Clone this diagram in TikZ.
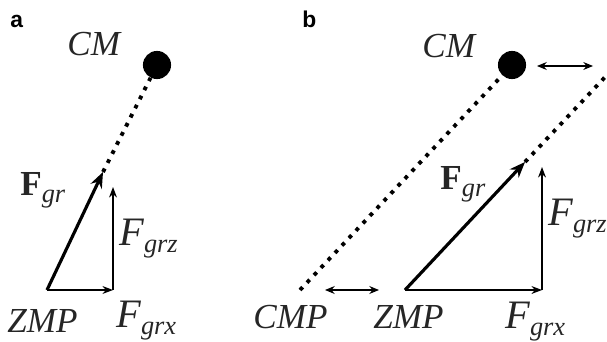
\documentclass[tikz,border=0pt]{standalone}
\usepackage{fontspec}
\setmainfont{Liberation Serif}
\setsansfont{Liberation Sans}
\usetikzlibrary{arrows.meta}

\newcommand{\fsub}[2]{#1\raisebox{-4.5pt}{\fontsize{15}{15}\selectfont\itshape #2}}
\tikzset{
    lbl/.style={font=\fontsize{20}{22}\selectfont\itshape, text=black!85, inner sep=0pt, anchor=base west},
    biglbl/.style={lbl, font=\fontsize{23}{25}\selectfont\itshape},
    panel/.style={font=\fontsize{13}{15}\selectfont\sffamily\bfseries, inner sep=0pt, anchor=base west},
    mass/.style={circle, fill, inner sep=0pt, minimum size=16pt},
    cmline/.style={line width=2.2pt, dash pattern=on 2.2pt off 3.6pt},
    force/.style={-{Stealth[length=9pt, width=7pt]}, line width=1.8pt},
    comp/.style={-{Stealth[length=6pt, width=4.5pt]}, line width=0.7pt},
    offsetarrow/.style={{Stealth[length=5.5pt, width=4.5pt]}-{Stealth[length=5.5pt, width=4.5pt]}, line width=0.7pt}
}

\begin{document}
\begin{tikzpicture}[x=0.02cm, y=-0.02cm]
    \useasboundingbox (0,0) rectangle (607,341);
    % (a)
    \node[panel] (lblA) at (10,28) {a};
    \node[lbl] (cmA) at (67,55) {CM};
    \node[mass] (dotA) at (157,65) {};
    \coordinate (zmpA) at (47,290);
    \coordinate (tipA) at (103,172);
    \coordinate (footA) at (113,290);
    \coordinate (topA) at (113,187);
    \draw[cmline] (tipA) -- (dotA);
    \draw[force] (zmpA) -- (tipA);
    \draw[comp] (zmpA) -- (footA);
    \draw[comp] (footA) -- (topA);
    \node[lbl] (fgrA) at (20,195) {\fsub{\textup{\textbf{F}}}{gr}};
    \node[biglbl] (fgrzA) at (119,245) {\fsub{F}{grz}};
    \node[lbl] (zmpTxtA) at (7,332) {ZMP};
    \node[biglbl] (fgrxA) at (116,327) {\fsub{F}{grx}};
    % (b)
    \node[panel] (lblB) at (302,28) {b};
    \node[lbl] (cmB) at (422,57) {CM};
    \node[mass] (dotB) at (512,65) {};
    \coordinate (cmpB) at (300,290);
    \coordinate (zmpB) at (405,290);
    \coordinate (tipB) at (525,162);
    \coordinate (endB) at (607,75);
    \coordinate (footB) at (542,290);
    \coordinate (topB) at (542,167);
    \coordinate (dL) at (325,290);
    \coordinate (dR) at (379,290);
    \coordinate (uL) at (537,66);
    \coordinate (uR) at (593,66);
    \draw[cmline] (cmpB) -- (dotB);
    \draw[cmline] (tipB) -- (endB);
    \draw[force] (zmpB) -- (tipB);
    \draw[comp] (zmpB) -- (footB);
    \draw[comp] (footB) -- (topB);
    \draw[offsetarrow] (dL) -- (dR);
    \draw[offsetarrow] (uL) -- (uR);
    \node[lbl] (fgrB) at (440,189) {\fsub{\textup{\textbf{F}}}{gr}};
    \node[biglbl] (fgrzB) at (548,225) {\fsub{F}{grz}};
    \node[lbl] (cmpTxtB) at (253,328) {CMP};
    \node[lbl] (zmpTxtB) at (373,328) {ZMP};
    \node[biglbl] (fgrxB) at (505,328) {\fsub{F}{grx}};
\end{tikzpicture}
\end{document}
